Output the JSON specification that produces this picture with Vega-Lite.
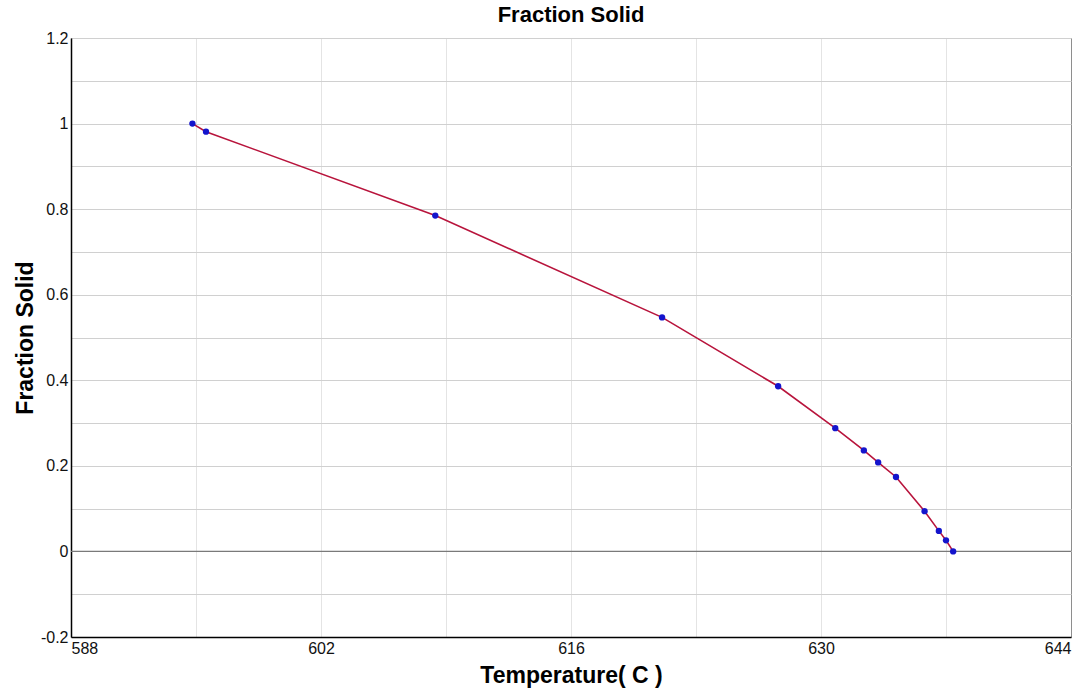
{
  "$schema": "https://vega.github.io/schema/vega-lite/v6.json",
  "width": 1000,
  "height": 599,
  "autosize": {"type": "none"},
  "padding": {"left": 71, "top": 38, "right": 9, "bottom": 59},
  "background": "white",
  "config": {
    "font": "Liberation Sans",
    "view": {"stroke": "#555555", "strokeWidth": 1}
  },
  "title": {
    "text": "Fraction Solid",
    "fontSize": 22,
    "fontWeight": "bold",
    "font": "Liberation Sans",
    "color": "#000000",
    "offset": 3,
    "anchor": "middle"
  },
  "datasets": {
    "curve": [
      {"temp": 594.8, "fs": 1.0},
      {"temp": 595.56, "fs": 0.981},
      {"temp": 608.4, "fs": 0.785},
      {"temp": 621.1, "fs": 0.547},
      {"temp": 627.6, "fs": 0.386},
      {"temp": 630.8, "fs": 0.288},
      {"temp": 632.4, "fs": 0.236},
      {"temp": 633.2, "fs": 0.208},
      {"temp": 634.2, "fs": 0.174},
      {"temp": 635.8, "fs": 0.094},
      {"temp": 636.6, "fs": 0.048},
      {"temp": 637.0, "fs": 0.026},
      {"temp": 637.4, "fs": 0.0}
    ],
    "zero": [{"fs": 0}]
  },
  "layer": [
    {
      "data": {"name": "zero"},
      "mark": {"type": "rule", "color": "#7a7a7a", "strokeWidth": 1.2},
      "encoding": {
        "y": {"field": "fs", "type": "quantitative", "scale": {"domain": [-0.2, 1.2], "nice": false}}
      }
    },
    {
      "data": {"name": "curve"},
      "mark": {"type": "line", "color": "#b8143c", "strokeWidth": 1.6},
      "encoding": {
        "x": {
          "field": "temp",
          "type": "quantitative",
          "scale": {"domain": [588, 644], "nice": false, "zero": false},
          "axis": {
            "values": [588, 595, 602, 609, 616, 623, 630, 637, 644],
            "labelExpr": "(datum.value - 588) % 14 == 0 ? datum.label : ''",
            "title": "Temperature( C )",
            "titleFontSize": 23,
            "titleFontWeight": "bold",
            "titleColor": "#000000",
            "titlePadding": 8,
            "labelFontSize": 16,
            "labelColor": "#111111",
            "labelPadding": 3,
            "ticks": false,
            "domainColor": "#000000",
            "domainWidth": 1.5,
            "grid": true,
            "gridColor": "#c8c8c8",
            "gridDash": [1, 1],
            "gridWidth": 1
          }
        },
        "y": {
          "field": "fs",
          "type": "quantitative",
          "scale": {"domain": [-0.2, 1.2], "nice": false, "zero": false},
          "axis": {
            "values": [-0.2, -0.1, 0, 0.1, 0.2, 0.3, 0.4, 0.5, 0.6, 0.7, 0.8, 0.9, 1.0, 1.1, 1.2],
            "labelExpr": "round(datum.value * 10) % 2 == 0 ? replace(format(datum.value, '.1~f'), '\u2212', '-') : ''",
            "title": "Fraction Solid",
            "titleFontSize": 23,
            "titleFontWeight": "bold",
            "titleColor": "#000000",
            "titlePadding": 3,
            "labelFontSize": 16,
            "labelColor": "#111111",
            "labelPadding": 3,
            "ticks": false,
            "domainColor": "#000000",
            "domainWidth": 1.5,
            "grid": true,
            "gridColor": "#d0d0d0",
            "gridWidth": 1
          }
        }
      }
    },
    {
      "data": {"name": "curve"},
      "mark": {"type": "point", "filled": true, "shape": "circle", "color": "#1414cc", "size": 40, "opacity": 1},
      "encoding": {
        "x": {"field": "temp", "type": "quantitative"},
        "y": {"field": "fs", "type": "quantitative"}
      }
    }
  ]
}
